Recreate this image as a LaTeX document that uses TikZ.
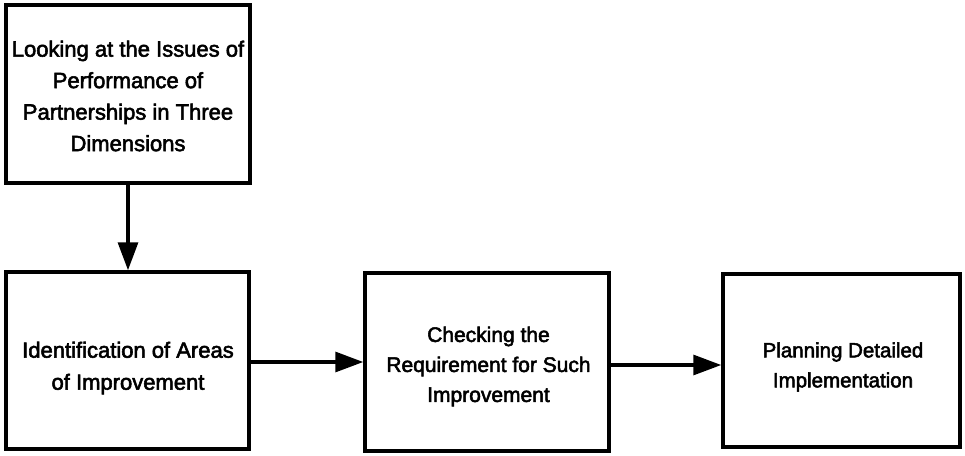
\documentclass[tikz,border=0pt]{standalone}
\usepackage{fontspec}
\setmainfont{Liberation Sans}[UprightFeatures={FakeBold=2.5}]
\usetikzlibrary{arrows.meta}

\begin{document}
\begin{tikzpicture}[x=1pt,y=-1pt,
  stagebox/.style={draw=black, line width=3.5pt, inner sep=0pt, line join=miter},
  stagetext/.style={align=center, inner sep=0pt},
  flow/.style={line width=3.2pt, -{Triangle[length=28pt,width=20pt]}}
]
  \useasboundingbox (0,0) rectangle (965,455);

  % boxes
  \node[stagebox, minimum width=244pt, minimum height=178pt] (b1) at (128,94) {};
  \node[stagebox, minimum width=243pt, minimum height=177pt] (b2) at (127.5,360.5) {};
  \node[stagebox, minimum width=244pt, minimum height=178pt] (b3) at (487,362) {};
  \node[stagebox, minimum width=237pt, minimum height=173pt] (b4) at (841.5,360.5) {};

  % box texts
  \node[stagetext, font=\fontsize{22}{31.5}\selectfont] (t1) at (128,96)
    {Looking at the Issues of\\Performance of\\Partnerships in Three\\Dimensions};
  \node[stagetext, font=\fontsize{22}{32}\selectfont] (t2) at (128,368)
    {Identification of Areas\\of Improvement};
  \node[stagetext, font=\fontsize{21}{30}\selectfont] (t3) at (488.5,366.5)
    {Checking the\\Requirement for Such\\Improvement};
  \node[stagetext, font=\fontsize{20.5}{30}\selectfont] (t4) at (843,367)
    {Planning Detailed\\Implementation};

  % connectors
  \draw[flow] (b1.south) -- (b1.south |- b2.north);
  \draw[flow] (b2.east |- b3.west) -- (b3.west);
  \draw[flow] ([yshift=-3pt]b3.east) -- ([yshift=-3pt]b3.east -| b4.west);
\end{tikzpicture}
\end{document}
